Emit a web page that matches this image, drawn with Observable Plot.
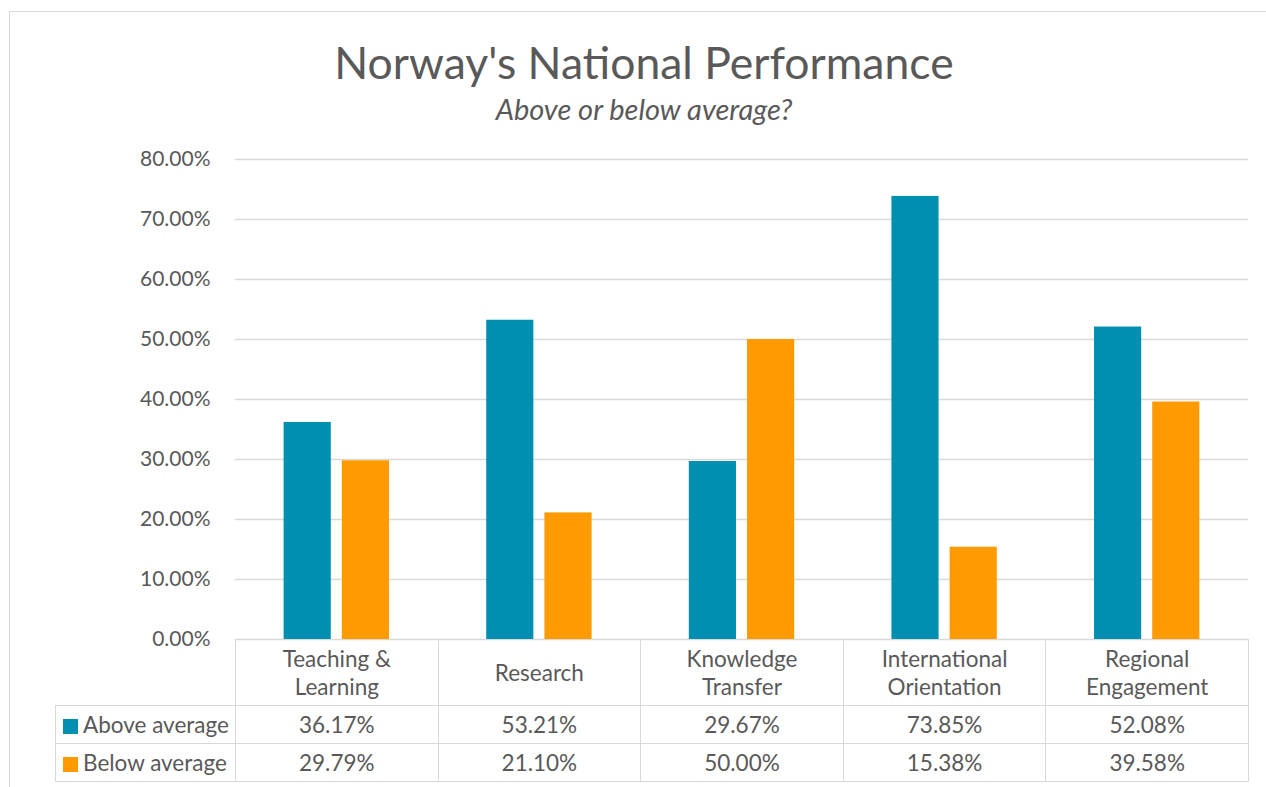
<!DOCTYPE html>
<html>
<head>
<meta charset="utf-8">
<script src="https://cdn.jsdelivr.net/npm/d3@7"></script>
<script src="https://cdn.jsdelivr.net/npm/@observablehq/plot@0.6"></script>
<style>
  html, body { margin: 0; padding: 0; background: #fff; }
  #wrap { position: relative; width: 1266px; height: 787px; overflow: hidden; font-family: Lato, "Open Sans", sans-serif; color: #595959; }
  #frame { position: absolute; left: 9px; top: 11px; width: 1300px; height: 820px; border: 1px solid #d9d9d9; box-sizing: border-box; }
  #title { position: absolute; left: 9px; width: 1270px; top: 35px; text-align: center; font-size: 44.5px; line-height: 54px; }
  #subtitle { position: absolute; left: 9px; width: 1270px; top: 91px; text-align: center; font-size: 29px; line-height: 36px; font-style: italic; }
  #chart { position: absolute; left: 0; top: 140px; }
  #table { position: absolute; left: 55px; top: 639px; border-collapse: collapse; table-layout: fixed; font-size: 22.5px; color: #595959; background: transparent; }
  #table td { border: 1.5px solid #d9d9d9; text-align: center; padding: 0; }
  #table td.blank { border-top: none; border-left: none; }
  #table tr.head td { height: 65px; line-height: 28px; white-space: pre-line; }
  #table tr.row td { height: 37px; }
  #table td.leg { text-align: left; padding-left: 7px; white-space: nowrap; }
  .sw { display: inline-block; width: 15px; height: 15px; margin-right: 5px; vertical-align: -1px; }
</style>
</head>
<body>
<div id="wrap">
  <div id="frame"></div>
  <div id="title"></div>
  <div id="subtitle"></div>
  <div id="chart"></div>
  <table id="table"></table>
</div>
<script>
const titleText = "Norway's National Performance";
const subtitleText = "Above or below average?";
const categories = ["Teaching & Learning", "Research", "Knowledge Transfer", "International Orientation", "Regional Engagement"];
const categoryLabels = ["Teaching &\nLearning", "Research", "Knowledge\nTransfer", "International\nOrientation", "Regional\nEngagement"];
const series = ["Above average", "Below average"];
const aboveValues = [0.3617, 0.5321, 0.2967, 0.7385, 0.5208];
const belowValues = [0.2979, 0.2110, 0.5000, 0.1538, 0.3958];
const seriesColors = ["#008fb1", "#ff9a00"];
const yTicks = [0, 0.1, 0.2, 0.3, 0.4, 0.5, 0.6, 0.7, 0.8];

document.getElementById("title").textContent = titleText;
document.getElementById("subtitle").textContent = subtitleText;

const valuesBySeries = [aboveValues, belowValues];
const data = [];
categories.forEach((c, i) => {
  series.forEach((s, j) => data.push({category: c, series: s, value: valuesBySeries[j][i]}));
});

const fmt = d3.format(".2%");

const chart = Plot.plot({
  width: 1266,
  height: 515,
  marginLeft: 235,
  marginRight: 18,
  marginTop: 19,
  marginBottom: 16,
  style: {fontFamily: "Lato, 'Open Sans', sans-serif", fontSize: "21px", color: "#595959", background: "transparent"},
  fx: {domain: categories, padding: 0, round: false, axis: null, label: null},
  x: {domain: series, paddingInner: 0.19, paddingOuter: 0.835, round: false, axis: null, label: null},
  y: {domain: [0, 0.8], ticks: yTicks, tickFormat: fmt, tickSize: 0, tickPadding: 25, label: null},
  color: {domain: series, range: seriesColors},
  marks: [
    Plot.ruleY(yTicks, {y: d => d, stroke: "#d9d9d9", strokeWidth: 1.5}),
    Plot.barY(data, {fx: "category", x: "series", y: "value", fill: "series"})
  ]
});
document.getElementById("chart").appendChild(chart);

// data table below the chart
const table = document.getElementById("table");
const colgroup = document.createElement("colgroup");
const legCol = document.createElement("col"); legCol.style.width = "180px"; colgroup.appendChild(legCol);
categories.forEach(() => { const c = document.createElement("col"); c.style.width = (1013 / categories.length) + "px"; colgroup.appendChild(c); });
table.appendChild(colgroup);
const head = document.createElement("tr"); head.className = "head";
const blank = document.createElement("td"); blank.className = "blank"; head.appendChild(blank);
categoryLabels.forEach(l => { const td = document.createElement("td"); td.textContent = l; head.appendChild(td); });
table.appendChild(head);
series.forEach((s, j) => {
  const tr = document.createElement("tr"); tr.className = "row";
  const lg = document.createElement("td"); lg.className = "leg";
  const sw = document.createElement("span"); sw.className = "sw"; sw.style.background = seriesColors[j];
  lg.appendChild(sw); lg.appendChild(document.createTextNode(s));
  tr.appendChild(lg);
  valuesBySeries[j].forEach(v => { const td = document.createElement("td"); td.textContent = fmt(v); tr.appendChild(td); });
  table.appendChild(tr);
});
</script>
</body>
</html>
